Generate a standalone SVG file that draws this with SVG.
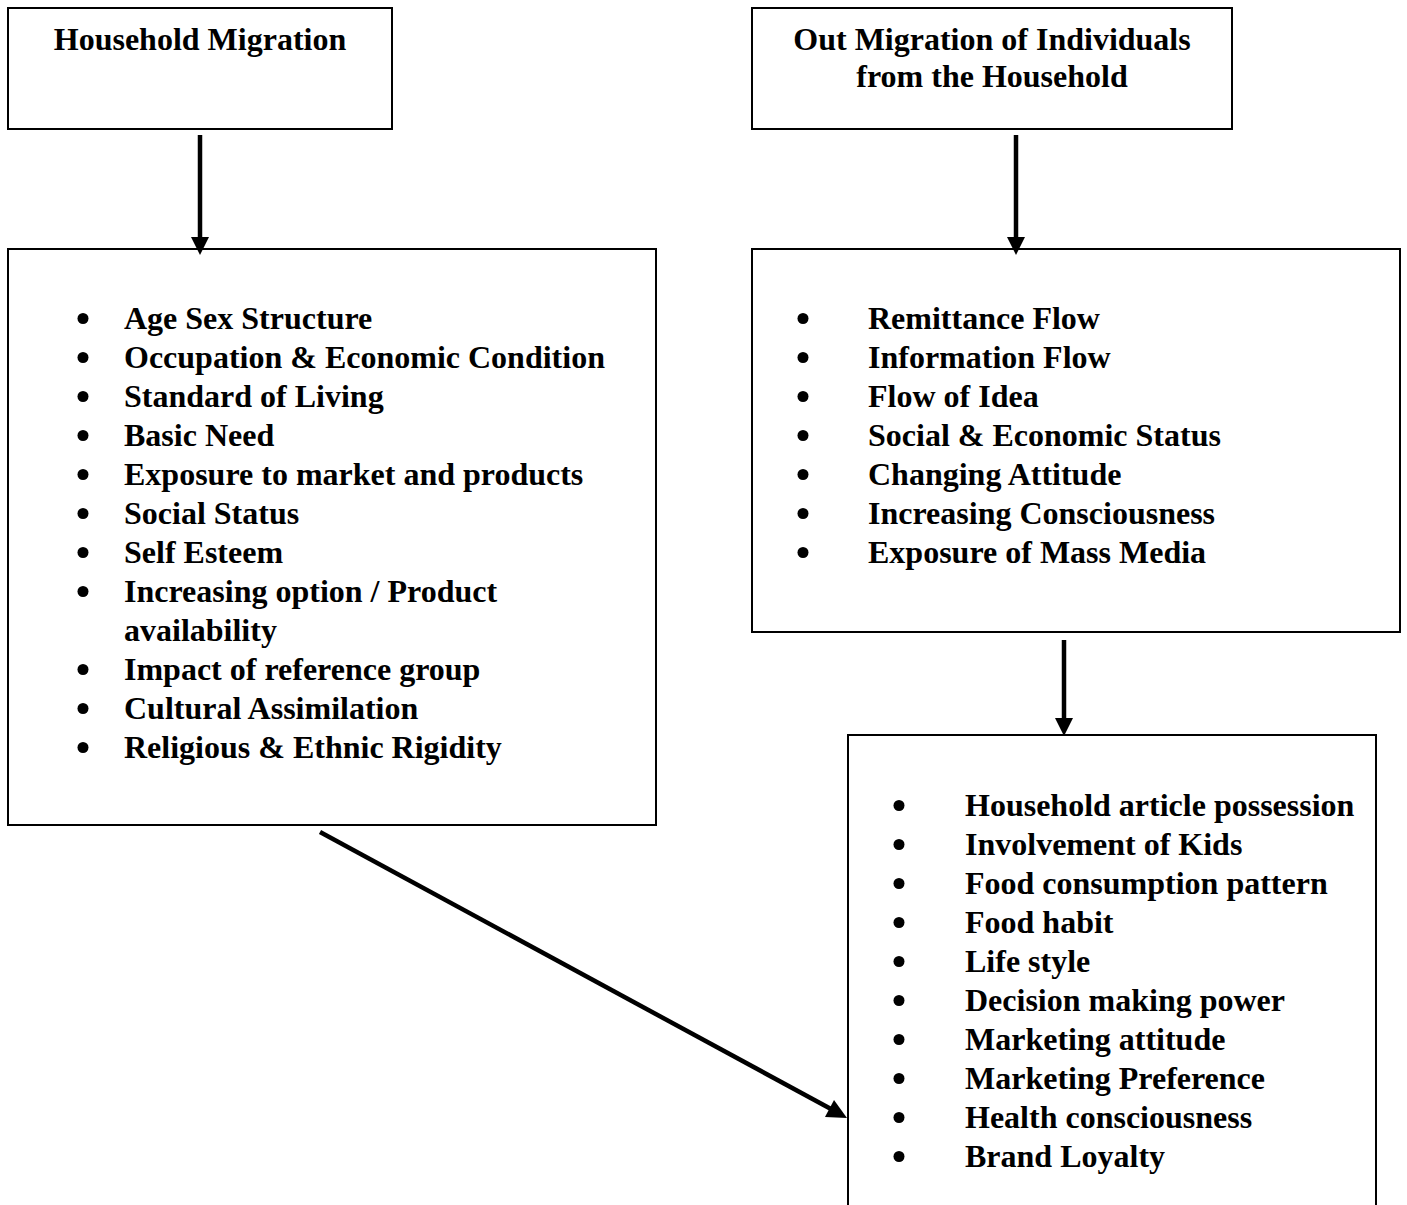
<svg xmlns="http://www.w3.org/2000/svg" width="1407" height="1205" viewBox="0 0 1407 1205">
<style>
.box{fill:#fff;stroke:#000;stroke-width:2}
.t{font-family:"Liberation Serif","Times New Roman",serif;font-weight:bold;font-size:32px;fill:#000}
.c{text-anchor:middle}
.b{fill:#000}
.ln{stroke:#000;stroke-width:4.5;fill:none}
.hd{fill:#000}
</style>
<rect width="1407" height="1205" fill="#fff"/>
<g id="household-migration">
<rect class="box" x="8" y="8" width="384" height="121"/>
<text class="t c" x="200" y="50">Household Migration</text>
</g>
<g id="out-migration">
<rect class="box" x="752" y="8" width="480" height="121"/>
<text class="t c" x="992" y="50">Out Migration of Individuals</text>
<text class="t c" x="992" y="87">from the Household</text>
</g>
<g id="household-factors">
<rect class="box" x="8" y="249" width="648" height="576"/>
<g class="b">
<circle cx="83" cy="318.5" r="5.5"/><circle cx="83" cy="357.5" r="5.5"/><circle cx="83" cy="396.5" r="5.5"/><circle cx="83" cy="435.5" r="5.5"/><circle cx="83" cy="474.5" r="5.5"/><circle cx="83" cy="513.5" r="5.5"/><circle cx="83" cy="552.5" r="5.5"/><circle cx="83" cy="591.5" r="5.5"/><circle cx="83" cy="669.5" r="5.5"/><circle cx="83" cy="708.5" r="5.5"/><circle cx="83" cy="747.5" r="5.5"/>
</g>
<text class="t" x="124" y="329">Age Sex Structure</text>
<text class="t" x="124" y="368">Occupation &amp; Economic Condition</text>
<text class="t" x="124" y="407">Standard of Living</text>
<text class="t" x="124" y="446">Basic Need</text>
<text class="t" x="124" y="485">Exposure to market and products</text>
<text class="t" x="124" y="524">Social Status</text>
<text class="t" x="124" y="563">Self Esteem</text>
<text class="t" x="124" y="602">Increasing option / Product</text>
<text class="t" x="124" y="641">availability</text>
<text class="t" x="124" y="680">Impact of reference group</text>
<text class="t" x="124" y="719">Cultural Assimilation</text>
<text class="t" x="124" y="758">Religious &amp; Ethnic Rigidity</text>
</g>
<g id="individual-factors">
<rect class="box" x="752" y="249" width="648" height="383"/>
<g class="b">
<circle cx="803" cy="318.5" r="5.5"/><circle cx="803" cy="357.5" r="5.5"/><circle cx="803" cy="396.5" r="5.5"/><circle cx="803" cy="435.5" r="5.5"/><circle cx="803" cy="474.5" r="5.5"/><circle cx="803" cy="513.5" r="5.5"/><circle cx="803" cy="552.5" r="5.5"/>
</g>
<text class="t" x="868" y="329">Remittance Flow</text>
<text class="t" x="868" y="368">Information Flow</text>
<text class="t" x="868" y="407">Flow of Idea</text>
<text class="t" x="868" y="446">Social &amp; Economic Status</text>
<text class="t" x="868" y="485">Changing Attitude</text>
<text class="t" x="868" y="524">Increasing Consciousness</text>
<text class="t" x="868" y="563">Exposure of Mass Media</text>
</g>
<g id="outcomes">
<path class="box" d="M848 1206 V735 H1376 V1206"/>
<g class="b">
<circle cx="899" cy="805.5" r="5.5"/><circle cx="899" cy="844.5" r="5.5"/><circle cx="899" cy="883.5" r="5.5"/><circle cx="899" cy="922.5" r="5.5"/><circle cx="899" cy="961.5" r="5.5"/><circle cx="899" cy="1000.5" r="5.5"/><circle cx="899" cy="1039.5" r="5.5"/><circle cx="899" cy="1078.5" r="5.5"/><circle cx="899" cy="1117.5" r="5.5"/><circle cx="899" cy="1156.5" r="5.5"/>
</g>
<text class="t" x="965" y="816">Household article possession</text>
<text class="t" x="965" y="855">Involvement of Kids</text>
<text class="t" x="965" y="894">Food consumption pattern</text>
<text class="t" x="965" y="933">Food habit</text>
<text class="t" x="965" y="972">Life style</text>
<text class="t" x="965" y="1011">Decision making power</text>
<text class="t" x="965" y="1050">Marketing attitude</text>
<text class="t" x="965" y="1089">Marketing Preference</text>
<text class="t" x="965" y="1128">Health consciousness</text>
<text class="t" x="965" y="1167">Brand Loyalty</text>
</g>
<g id="connectors">
<line class="ln" x1="200" y1="135" x2="200" y2="238"/>
<polygon class="hd" points="191,237 209,237 200,255"/>
<line class="ln" x1="1016" y1="135" x2="1016" y2="238"/>
<polygon class="hd" points="1007,237 1025,237 1016,255"/>
<line class="ln" x1="1064" y1="640" x2="1064" y2="719"/>
<polygon class="hd" points="1055,718 1073,718 1064,736"/>
<line class="ln" x1="320" y1="832" x2="831" y2="1109"/>
<polygon class="hd" points="825,1117 834,1100 847,1118"/>
</g>
</svg>
